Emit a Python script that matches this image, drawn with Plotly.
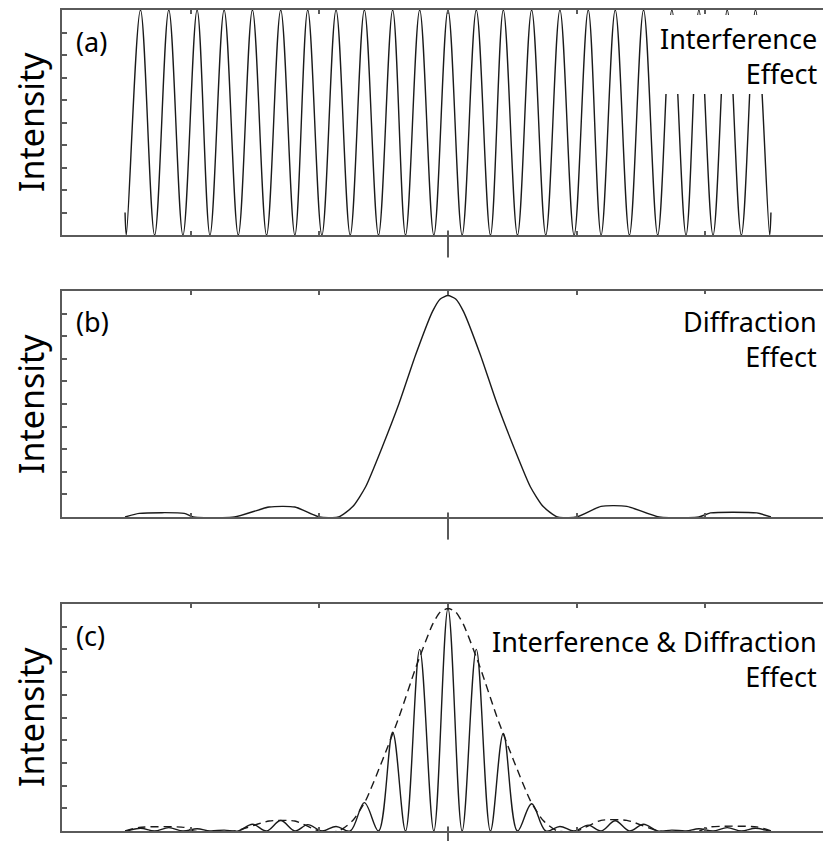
import plotly.graph_objects as go

# ---- data (x in units of the tick spacing) ----
interf_x = [-2.51, -2.50, -2.39, -2.28, -2.17, -2.06, -1.95, -1.85, -1.74, -1.63,
            -1.52, -1.41, -1.30, -1.19, -1.09, -0.98, -0.87, -0.76, -0.65, -0.54,
            -0.43, -0.33, -0.22, -0.11, 0.00, 0.11, 0.22, 0.33, 0.43, 0.54,
            0.65, 0.76, 0.87, 0.98, 1.09, 1.19, 1.30, 1.41, 1.52, 1.63,
            1.74, 1.85, 1.95, 2.06, 2.17, 2.28, 2.39, 2.50, 2.51]
interf_y = [0.10, 0, 1, 0, 1, 0, 1, 0, 1, 0,
            1, 0, 1, 0, 1, 0, 1, 0, 1, 0,
            1, 0, 1, 0, 1, 0, 1, 0, 1, 0,
            1, 0, 1, 0, 1, 0, 1, 0, 1, 0,
            1, 0, 1, 0, 1, 0, 1, 0, 0.10]

diff_x = [-2.51, -2.40, -2.05, -1.98, -1.66, -1.39, -1.19, -1.00, -0.85, -0.74,
          -0.64, -0.51, -0.38, -0.25, -0.12, -0.06, 0.00, 0.06, 0.12, 0.25,
          0.38, 0.51, 0.64, 0.74, 0.85, 1.00, 1.19, 1.39, 1.64, 1.95,
          2.04, 2.40, 2.51]
diff_y = [0.0, 0.016, 0.016, 0.0, 0.0, 0.044, 0.044, 0.0, 0.0, 0.046,
          0.134, 0.311, 0.503, 0.72, 0.91, 0.965, 0.98, 0.965, 0.91, 0.72,
          0.503, 0.311, 0.134, 0.046, 0.0, 0.0, 0.047, 0.047, 0.0, 0.0,
          0.018, 0.018, 0.0]

combo_y = [0, 0, 0.012, 0, 0.015, 0, 0.010, 0, 0.004, 0,
           0.030, 0, 0.046, 0, 0.028, 0, 0.020, 0, 0.125, 0,
           0.435, 0, 0.80, 0, 0.98, 0, 0.80, 0, 0.43, 0,
           0.12, 0, 0.020, 0, 0.026, 0, 0.045, 0, 0.030, 0,
           0.004, 0, 0.010, 0, 0.015, 0, 0.012, 0, 0]

x_ticks = [-3, -2, -1, 0, 1, 2]

LINE = "#1a1a1a"
FRAME = "#5a5a5a"
FONT = "Noto Sans"

fig = go.Figure()
fig.add_trace(go.Scatter(x=interf_x, y=interf_y, mode="lines",
                         line=dict(color=LINE, width=1.4, shape="spline", smoothing=1),
                         xaxis="x", yaxis="y", showlegend=False))
fig.add_trace(go.Scatter(x=diff_x, y=diff_y, mode="lines",
                         line=dict(color=LINE, width=1.4, shape="spline", smoothing=0.6),
                         xaxis="x2", yaxis="y2", showlegend=False))
fig.add_trace(go.Scatter(x=diff_x, y=diff_y, mode="lines",
                         line=dict(color=LINE, width=1.4, shape="spline", smoothing=0.6,
                                   dash="8px,5px"),
                         xaxis="x3", yaxis="y3", showlegend=False))
fig.add_trace(go.Scatter(x=interf_x, y=combo_y, mode="lines",
                         line=dict(color=LINE, width=1.4, shape="spline", smoothing=1),
                         xaxis="x3", yaxis="y3", showlegend=False))

# page has an 8px body margin; plot area spans page px x 62..831, y 10..831
H = 821.0
W = 769.0
def dom(top_px, bot_px):
    return [(831 - bot_px) / H, (831 - top_px) / H]

domains = {"": dom(10, 235), "2": dom(291, 517), "3": dom(604, 831)}
xrange_ = [-3, -3 + W / 129.0]

layout = dict(width=823, height=833, paper_bgcolor="white", plot_bgcolor="white",
              margin=dict(l=54, r=0, t=2, b=10), showlegend=False)
for k, d in domains.items():
    layout["xaxis" + k] = dict(domain=[0, 1], range=xrange_, anchor="y" + k,
                               showline=True, linecolor=FRAME, linewidth=2, mirror="ticks",
                               ticks="inside", ticklen=4, tickcolor=FRAME, tickwidth=1.5,
                               tickvals=x_ticks, showticklabels=False, showgrid=False,
                               zeroline=False, fixedrange=True)
    layout["yaxis" + k] = dict(domain=d, range=[0, 1], anchor="x" + k,
                               showline=True, linecolor=FRAME, linewidth=2, mirror="ticks",
                               ticks="inside", ticklen=5, tickcolor=FRAME, tickwidth=1.5,
                               dtick=0.1, showticklabels=False, showgrid=False,
                               zeroline=False, fixedrange=True)
fig.update_layout(**layout)

shapes = []
# white boxes behind the right-hand labels of (a) and (b)
shapes.append(dict(type="rect", xref="paper", yref="paper",
                   x0=(657 - 62) / W, x1=1.01, y0=(831 - 94) / H, y1=(831 - 15) / H,
                   fillcolor="white", line=dict(width=0), layer="above"))
shapes.append(dict(type="rect", xref="paper", yref="paper",
                   x0=(680 - 62) / W, x1=1.01, y0=(831 - 377) / H, y1=(831 - 294) / H,
                   fillcolor="white", line=dict(width=0), layer="above"))
# long centre ticks
for k in ["", "2", "3"]:
    shapes.append(dict(type="line", xref="x" + k, yref="y" + k + " domain",
                       x0=0, x1=0, y0=-0.1, y1=0.02,
                       line=dict(color=FRAME, width=2), layer="above"))
fig.update_layout(shapes=shapes)

ann = []
for lab, py in [("(a)", 42), ("(b)", 321), ("(c)", 635)]:
    ann.append(dict(text=lab, xref="paper", yref="paper", x=(74 - 62) / W,
                    y=(831 - py) / H, xanchor="left", yanchor="middle", showarrow=False,
                    font=dict(family=FONT, size=27, color="black")))
for lab, py in [("Interference<br>Effect", 56), ("Diffraction<br>Effect", 339),
                ("Interference &amp; Diffraction<br>Effect", 659)]:
    ann.append(dict(text=lab, xref="paper", yref="paper", x=(821 - 62) / W,
                    y=(831 - py) / H, xanchor="right", yanchor="middle", align="right",
                    showarrow=False, font=dict(family=FONT, size=27, color="black")))
for py in [122, 404, 717]:
    ann.append(dict(text="Intensity", xref="paper", yref="paper", x=(31 - 62) / W,
                    y=(831 - py) / H, xanchor="center", yanchor="middle", textangle=-90,
                    showarrow=False, font=dict(family=FONT, size=34, color="black")))
fig.update_layout(annotations=ann)

fig.write_html("out.html")
